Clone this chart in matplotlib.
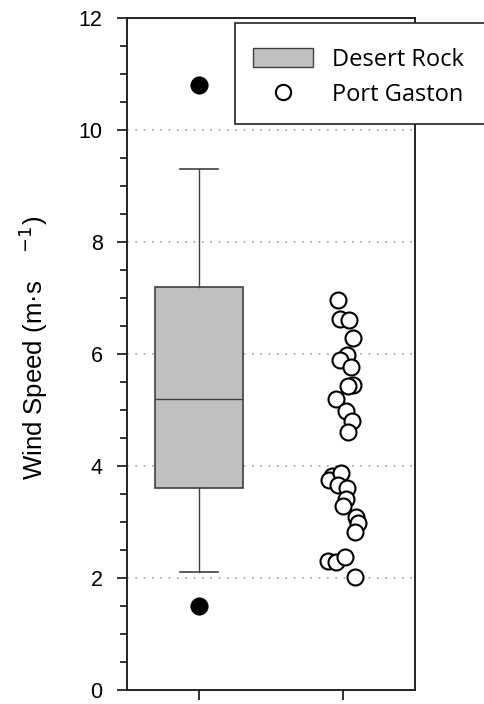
import matplotlib
matplotlib.use("Agg")
import matplotlib.pyplot as plt
from matplotlib.patches import Patch, Rectangle
from matplotlib.lines import Line2D

# data
dr_q1, dr_med, dr_q3 = 3.6, 5.2, 7.2
dr_whislo, dr_whishi = 2.1, 9.3
dr_fliers = [10.8, 1.5]

pg_values = [6.96, 6.62, 6.61, 6.29, 5.98, 5.89, 5.77, 5.45, 5.43, 5.20, 4.98, 4.80, 4.61,
             3.83, 3.75, 3.87, 3.67, 3.60, 3.42, 3.29, 3.09, 2.98, 2.82,
             2.31, 2.28, 2.38, 2.01]
pg_jitter = [-0.033, -0.021, 0.042, 0.072, 0.026, -0.016, 0.056, 0.072, 0.037, -0.049, 0.021, 0.067, 0.037,
             -0.072, -0.095, -0.009, -0.033, 0.030, 0.021, 0.002, 0.095, 0.106, 0.083,
             -0.102, -0.049, 0.014, 0.083]

series_names = ["Desert Rock", "Port Gaston"]
y_ticks = [0, 2, 4, 6, 8, 10, 12]

plt.rcParams["font.family"] = ["Liberation Sans", "DejaVu Sans"]

fig = plt.figure(figsize=(4.84, 7.04), dpi=100)
ax = fig.add_axes([0.262, 0.020, 0.595, 0.954])

# dotted gridlines
for yv in y_ticks[1:-1]:
    ax.axhline(yv, color="#a0a0a0", lw=1.2, ls=(0, (1, 4)), zorder=0)

stats = [dict(q1=dr_q1, med=dr_med, q3=dr_q3, whislo=dr_whislo, whishi=dr_whishi,
              fliers=dr_fliers, label=series_names[0])]
ax.bxp(stats, positions=[1], widths=0.61, capwidths=0.26, patch_artist=True,
       boxprops=dict(facecolor="#c0c0c0", edgecolor="#404040", lw=1.2),
       medianprops=dict(color="#404040", lw=1.0),
       whiskerprops=dict(color="#404040", lw=1.0),
       capprops=dict(color="#404040", lw=1.2),
       flierprops=dict(marker="o", markerfacecolor="black", markeredgecolor="black",
                       markersize=12.5, markeredgewidth=0.5),
       manage_ticks=False, zorder=2)

pg_x = [2 + j for j in pg_jitter]
ax.plot(pg_x, pg_values, ls="none", marker="o", markersize=11.5, markerfacecolor="white",
        markeredgecolor="black", markeredgewidth=1.5, zorder=3)

ax.set_xlim(0.5, 2.5)
ax.set_ylim(0, 12)
ax.set_xticks([1, 2])
ax.set_xticklabels(["", ""])
ax.set_yticks(y_ticks)
ax.set_yticks([v / 2 for v in range(0, 25)], minor=True)
ax.tick_params(axis="both", which="major", direction="out", length=7.5, width=1.3,
               labelsize=15.5, color="#222222", pad=10)
ax.tick_params(axis="y", which="minor", direction="out", length=5, width=1.3, color="#222222")
for s in ax.spines.values():
    s.set_linewidth(1.4)
    s.set_color("#222222")

ax.set_ylabel("Wind Speed (m·s    $^{-1}$)", fontsize=18.5)
ax.yaxis.set_label_coords(-0.265, 0.509)

# legend frame runs off the right edge of the figure
frame = Rectangle((235 / 484, 1 - 124 / 704), 0.6, 101 / 704, transform=fig.transFigure,
                  facecolor="white", edgecolor="#222222", lw=1.2, zorder=4)
fig.patches.append(frame)

handles = [Patch(facecolor="#c0c0c0", edgecolor="#404040", lw=1.0),
           Line2D([], [], ls="none", marker="o", markersize=11, markerfacecolor="white",
                  markeredgecolor="black", markeredgewidth=1.5)]
leg = fig.legend(handles, series_names, loc="upper left",
                 bbox_to_anchor=(253 / 484, 1 - 48 / 704),
                 frameon=False, prop={"family": ["Open Sans", "DejaVu Sans"], "size": 17},
                 handlelength=2.54, handleheight=0.85, borderpad=0, labelspacing=0.45,
                 handletextpad=0.8, borderaxespad=0)
leg.set_zorder(5)

fig.savefig("out.png", dpi=100)
